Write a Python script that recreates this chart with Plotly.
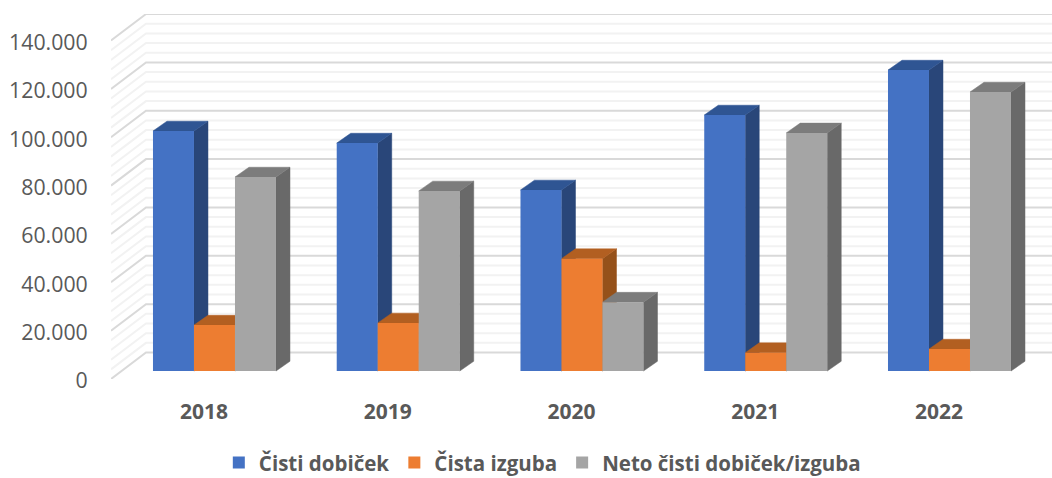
import plotly.graph_objects as go

years = ["2018", "2019", "2020", "2021", "2022"]
series_names = ["Čisti dobiček", "Čista izguba", "Neto čisti dobiček/izguba"]
cisti_dobicek = [99300, 94300, 74900, 105900, 124500]
cista_izguba = [19000, 19900, 46500, 7600, 9100]
neto = [80250, 74500, 28500, 98500, 115400]
y_ticks = [0, 20000, 40000, 60000, 80000, 100000, 120000, 140000]
y_labels = ["0", "20.000", "40.000", "60.000", "80.000", "100.000", "120.000", "140.000"]
minor_step = 4000

front = ["#4472C4", "#ED7D31", "#A5A5A5"]
top = ["#2F5593", "#B25F21", "#7C7C7C"]
side = ["#294679", "#95511A", "#696969"]

PX_X = 183.75          # pixels per category
PX_Y = 48.35 / 20000   # pixels per unit
DX = 35 / PX_X         # full floor depth, x units
DY = 26.5 / PX_Y       # full floor depth, y units
BAR_W = 41 / PX_X
X_RANGE = [-0.506, 4.615]
Y_RANGE = [0, 365 / PX_Y]

fig = go.Figure()

# depth walls
def grid(values, color, width):
    xs, ys = [], []
    for v in values:
        xs += [X_RANGE[0], X_RANGE[0] + DX, X_RANGE[1], None]
        ys += [v, v + DY, v + DY, None]
    fig.add_trace(go.Scatter(x=xs, y=ys, mode="lines", line=dict(color=color, width=width),
                             showlegend=False, hoverinfo="skip"))

minor = [v for v in range(0, 140001, minor_step) if v not in y_ticks]
grid(minor, "#F2F2F2", 2)
grid(y_ticks, "#D9D9D9", 2)

series = [cisti_dobicek, cista_izguba, neto]
base = 0.3 * DY
shift = 0.3 * DX
bar_dx = 0.4 * DX
bar_dy = 0.37 * DY

def poly(xs, ys, color):
    fig.add_trace(go.Scatter(x=xs, y=ys, mode="lines", fill="toself", fillcolor=color,
                             line=dict(color=color, width=0.5), showlegend=False, hoverinfo="skip"))

for i in range(len(years)):
    c = i + shift
    for s, vals in enumerate(series):
        l = c + (s - 1.5) * BAR_W
        r = l + BAR_W
        t = base + vals[i]
        poly([r, r + bar_dx, r + bar_dx, r, r], [base, base + bar_dy, t + bar_dy, t, base], side[s])
        poly([l, l + bar_dx, r + bar_dx, r, l], [t, t + bar_dy, t + bar_dy, t, t], top[s])

for s, vals in enumerate(series):
    fig.add_trace(go.Bar(x=[i + shift for i in range(len(years))], y=vals, base=base,
                         name=series_names[s], marker=dict(color=front[s], line=dict(width=0)),
                         xaxis="x2", yaxis="y2", hoverinfo="skip"))

fig.update_layout(
    width=1052, height=478,
    margin=dict(l=111, r=0, t=14, b=99),
    paper_bgcolor="white", plot_bgcolor="rgba(0,0,0,0)",
    barmode="group", bargap=1 - 3 * BAR_W, bargroupgap=0,
    font=dict(family="Open Sans", color="#595959"),
    xaxis=dict(range=X_RANGE, tickvals=list(range(len(years))), ticktext=years,
               showgrid=False, zeroline=False, showline=False,
               ticks="outside", ticklen=14, tickcolor="rgba(0,0,0,0)",
               tickfont=dict(size=21, weight=700, color="#595959")),
    yaxis=dict(range=Y_RANGE, tickvals=y_ticks, ticktext=y_labels,
               showgrid=False, zeroline=False, showline=False,
               ticks="outside", ticklen=18, tickcolor="rgba(0,0,0,0)", ticklabelshift=2,
               tickfont=dict(size=21.3, color="#595959")),
    xaxis2=dict(range=X_RANGE, overlaying="x", visible=False),
    yaxis2=dict(range=Y_RANGE, overlaying="y", visible=False),
    legend=dict(orientation="h", xref="container", yref="container", x=0.208, y=0.032,
                xanchor="left", yanchor="middle", traceorder="normal",
                font=dict(size=20.5, weight=700, color="#595959"), itemwidth=30,
                bgcolor="rgba(0,0,0,0)"),
)

fig.write_html("out.html", config={"displayModeBar": False},
               post_script="document.body.style.margin='0';document.body.style.overflow='hidden';")
